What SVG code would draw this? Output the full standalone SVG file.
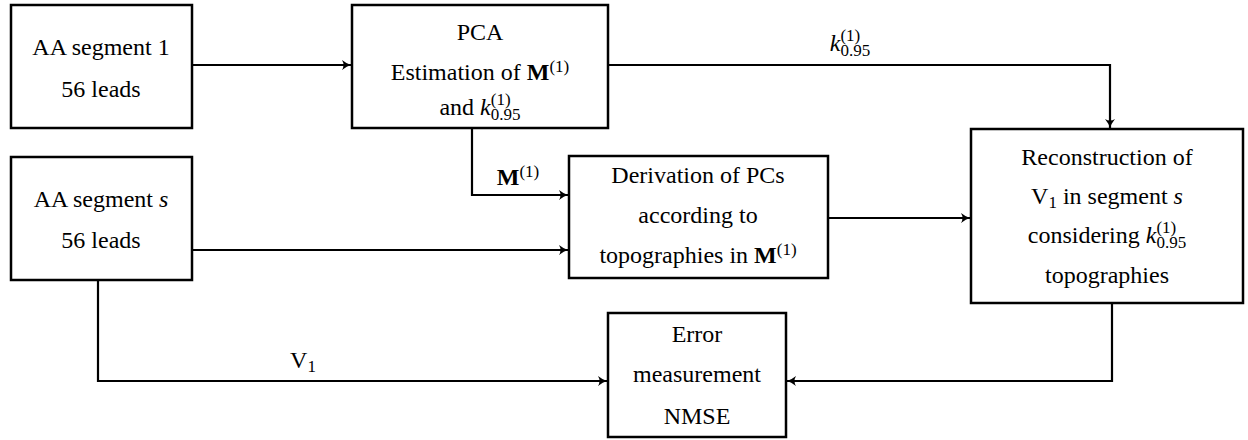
<svg xmlns="http://www.w3.org/2000/svg" width="1248" height="440" viewBox="0 0 1248 440" font-family="'Liberation Serif', 'Times New Roman', 'DejaVu Serif', serif">
<style>
.box{fill:#fff;stroke:#000;stroke-width:2.5}
.t{font-family:"Liberation Serif","Times New Roman","DejaVu Serif",serif;font-size:24px;fill:#000;text-anchor:middle}
.sm{font-size:17px}
.it{font-style:italic}
.b{font-weight:bold}
.c{fill:none;stroke:#000;stroke-width:2.2}
</style>
<defs>
<marker id="ah" markerUnits="userSpaceOnUse" markerWidth="12" markerHeight="12" viewBox="-10 -6 12 12" refX="0" refY="0" orient="auto">
<path d="M-9,-5 Q-4,-1 0,0 Q-4,1 -9,5 Q-6,0 -9,-5 Z" fill="#000"/>
</marker>
</defs>
<g id="connectors">
<path class="c" d="M192,65 H351" marker-end="url(#ah)"/>
<path class="c" d="M608,65 H1110 V128" marker-end="url(#ah)"/>
<path class="c" d="M472,128 V195 H568" marker-end="url(#ah)"/>
<path class="c" d="M192,250 H568" marker-end="url(#ah)"/>
<path class="c" d="M828,218 H970" marker-end="url(#ah)"/>
<path class="c" d="M98,280 V381 H607" marker-end="url(#ah)"/>
<path class="c" d="M1112,303 V381 H787" marker-end="url(#ah)"/>
<text class="t" x="850" y="51"><tspan class="it">k</tspan><tspan class="sm" dy="-10.5">(1)</tspan><tspan class="sm" dx="-19.8" dy="15">0.95</tspan></text>
<text class="t" x="518" y="185"><tspan class="b">M</tspan><tspan class="sm" dy="-8">(1)</tspan></text>
<text class="t" x="303" y="368">V<tspan class="sm" dy="4">1</tspan></text>
</g>
<g id="seg1">
<rect class="box" x="11" y="5" width="181" height="123"/>
<text class="t" x="101" y="55">AA segment 1</text>
<text class="t" x="101" y="97">56 leads</text>
</g>
<g id="pca">
<rect class="box" x="352" y="5" width="256" height="123"/>
<text class="t" x="480" y="40">PCA</text>
<text class="t" x="480" y="80">Estimation of <tspan class="b">M</tspan><tspan class="sm" dy="-8">(1)</tspan></text>
<text class="t" x="480" y="115">and <tspan class="it">k</tspan><tspan class="sm" dy="-10.5">(1)</tspan><tspan class="sm" dx="-19.8" dy="15">0.95</tspan></text>
</g>
<g id="segs">
<rect class="box" x="11" y="157" width="181" height="123"/>
<text class="t" x="101" y="207">AA segment <tspan class="it">s</tspan></text>
<text class="t" x="101" y="248">56 leads</text>
</g>
<g id="deriv">
<rect class="box" x="569" y="156" width="259" height="122"/>
<text class="t" x="698" y="183">Derivation of PCs</text>
<text class="t" x="698" y="223">according to</text>
<text class="t" x="698" y="263">topographies in <tspan class="b">M</tspan><tspan class="sm" dy="-8">(1)</tspan></text>
</g>
<g id="recon">
<rect class="box" x="971" y="129" width="272" height="174"/>
<text class="t" x="1107" y="165">Reconstruction of</text>
<text class="t" x="1107" y="204">V<tspan class="sm" dy="4">1</tspan><tspan dy="-4"> in segment </tspan><tspan class="it">s</tspan></text>
<text class="t" x="1107" y="243">considering <tspan class="it">k</tspan><tspan class="sm" dy="-10.5">(1)</tspan><tspan class="sm" dx="-19.8" dy="15">0.95</tspan></text>
<text class="t" x="1107" y="283">topographies</text>
</g>
<g id="error">
<rect class="box" x="608" y="313" width="178" height="124"/>
<text class="t" x="697" y="342">Error</text>
<text class="t" x="697" y="382">measurement</text>
<text class="t" x="697" y="424">NMSE</text>
</g>
</svg>
